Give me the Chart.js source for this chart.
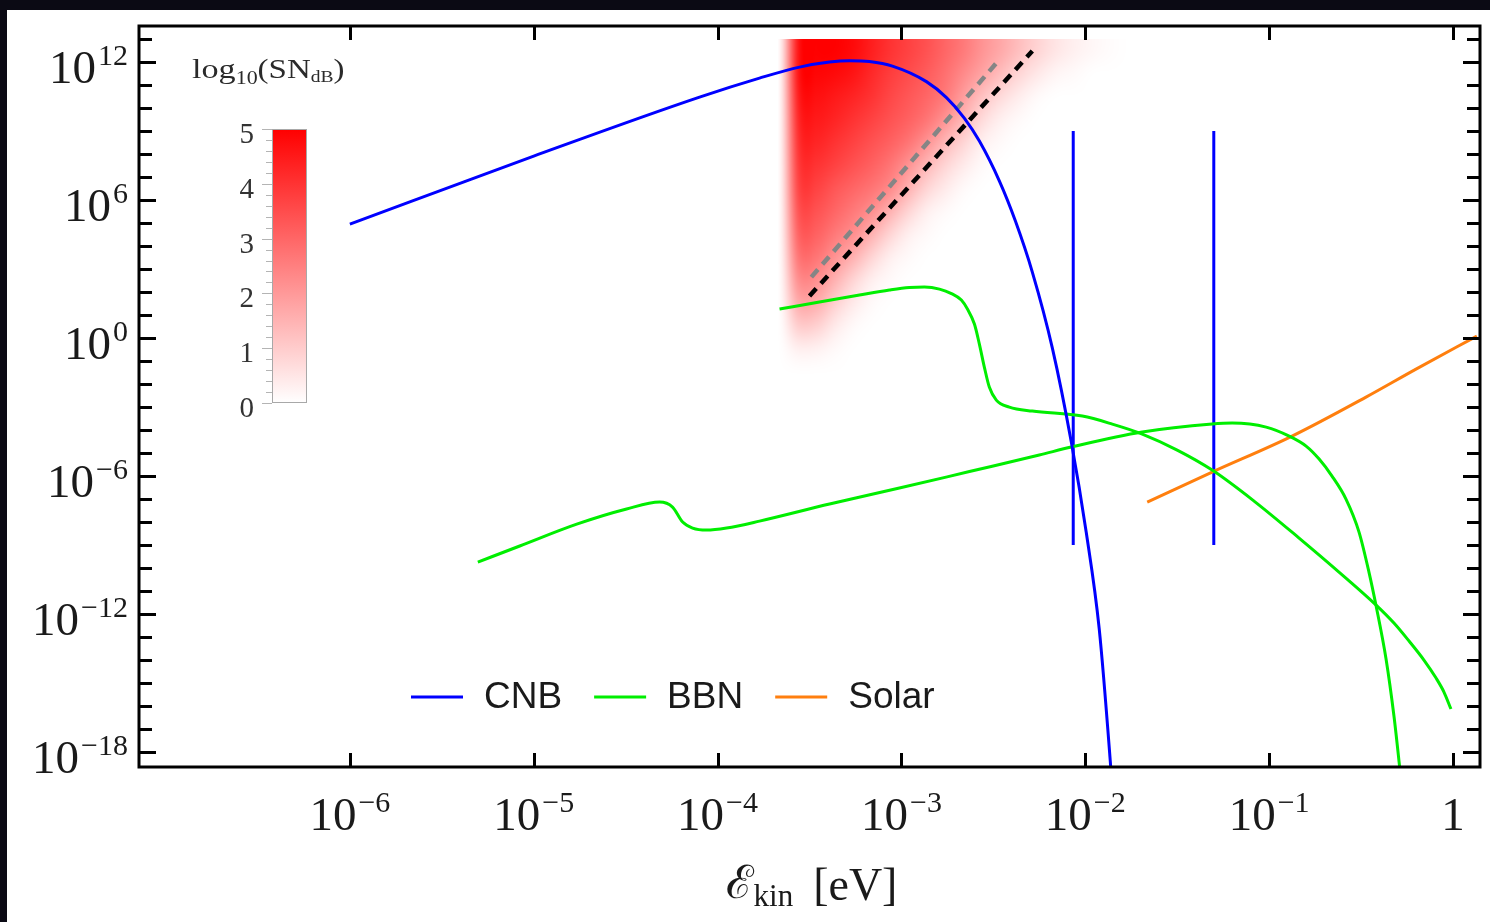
<!DOCTYPE html>
<html><head><meta charset="utf-8">
<script src="https://cdn.jsdelivr.net/npm/chart.js@4.4.0/dist/chart.umd.min.js"></script>
<style>
html,body{margin:0;padding:0;background:#0a0912;overflow:hidden}
#c{position:absolute;left:0;top:0}
</style></head><body>
<canvas id="c" width="1490" height="922"></canvas>
<script>
// ---------------- data (log10 values) ----------------
const xTickValues = [1e-6, 1e-5, 1e-4, 1e-3, 1e-2, 1e-1, 1];
const xTickBase = ['10', '10', '10', '10', '10', '10', '1'];
const xTickSup = ['\u22126', '\u22125', '\u22124', '\u22123', '\u22122', '\u22121', ''];
const yTickValues = [1e12, 1e6, 1, 1e-6, 1e-12, 1e-18];
const yTickBase = ['10', '10', '10', '10', '10', '10'];
const yTickSup = ['12', '6', '0', '\u22126', '\u221212', '\u221218'];

const cnbLogE = [-6, -5, -4.098, -3.772, -3.554, -3.391, -3.283, -3.174, -3.049, -2.864, -2.755, -2.658, -2.576, -2.467, -2.380, -2.288, -2.179, -2.076, -1.995, -1.924, -1.864, -1.826];
const cnbLogFlux = [4.957, 7.913, 10.478, 11.304, 11.783, 12.0, 12.057, 12.022, 11.826, 11.152, 10.457, 9.565, 8.565, 6.826, 5.087, 2.870, -0.435, -4.522, -8.435, -12.652, -18.391, -22.652];

const bbnALogE = [-3.663, -3.446, -3.228, -3.065, -2.957, -2.875, -2.793, -2.728, -2.674, -2.641, -2.603, -2.576, -2.549, -2.522, -2.484, -2.413, -2.288, -2.016, -1.853, -1.690, -1.500, -1.310, -1.082, -0.837, -0.620, -0.418, -0.321, -0.239, -0.158, -0.092, -0.049, -0.011];
const bbnALogFlux = [1.261, 1.565, 1.870, 2.087, 2.196, 2.217, 2.130, 1.935, 1.652, 1.261, 0.609, -0.261, -1.261, -2.130, -2.696, -3.0, -3.174, -3.391, -3.739, -4.174, -4.870, -5.739, -7.087, -8.696, -10.174, -11.609, -12.391, -13.174, -14.0, -14.783, -15.391, -16.13];

const bbnBLogE = [-5.304, -5.076, -4.766, -4.495, -4.315, -4.245, -4.19, -4.136, -4.06, -3.951, -3.772, -3.391, -3.011, -2.630, -2.250, -2.076, -1.690, -1.310, -1.201, -1.016, -0.891, -0.799, -0.728, -0.658, -0.582, -0.511, -0.457, -0.418, -0.364, -0.321, -0.293, -0.272];
const bbnBLogFlux = [-9.74, -9.04, -8.09, -7.43, -7.13, -7.35, -8.0, -8.26, -8.35, -8.26, -7.96, -7.217, -6.522, -5.804, -5.087, -4.739, -4.087, -3.739, -3.696, -3.870, -4.261, -4.696, -5.261, -6.0, -7.0, -8.435, -10.174, -11.652, -13.957, -16.435, -18.435, -20.043];

const solarLogE = [-1.663, -1.310, -0.875, -0.473, -0.201, 0.130];
const solarLogFlux = [-7.13, -5.826, -4.261, -2.565, -1.348, 0.087];

const massLogE = [-2.0655, -1.301];          // vertical CNB mass lines
const massLogFluxRange = [-9, 9];

const blackDashLogE = [-3.5, -2.288];
const blackDashLogFlux = [1.83, 12.48];
const grayDashLogE = [-3.49, -2.478];
const grayDashLogFlux = [2.65, 12.01];

// heat map of log10(SN_dB): column centres (log10 E), row centres (log10 flux), values per row
const heatLogE = [-3.66, -3.56, -3.46, -3.36, -3.26, -3.16, -3.06, -2.96, -2.86, -2.76, -2.66, -2.56, -2.46, -2.36, -2.26, -2.16, -2.06, -1.96, -1.86, -1.76];
const heatLogFlux = [12.5, 11.5, 10.5, 9.5, 8.5, 7.5, 6.5, 5.5, 4.5, 3.5, 2.5, 1.5, 0.5, -0.5, -1.5];
const heatSN = [
  [0, 4.8, 5.0, 5.0, 4.8, 4.4, 4.0, 3.7, 3.4, 3.0, 2.6, 2.1, 1.7, 1.25, 0.85, 0.5, 0.3, 0.15, 0.05, 0],
  [0, 4.8, 4.9, 4.8, 4.6, 4.2, 3.8, 3.5, 3.2, 2.8, 2.3, 1.8, 1.3, 0.8, 0.45, 0.2, 0.1, 0, 0, 0],
  [0, 4.6, 4.7, 4.5, 4.3, 4.0, 3.6, 3.3, 3.0, 2.6, 1.9, 1.2, 0.7, 0.35, 0.1, 0, 0, 0, 0, 0],
  [0, 4.4, 4.5, 4.3, 4.0, 3.7, 3.4, 3.1, 2.7, 2.1, 1.4, 0.7, 0.3, 0.1, 0, 0, 0, 0, 0, 0],
  [0, 4.2, 4.3, 4.0, 3.7, 3.4, 3.1, 2.7, 2.1, 1.4, 0.8, 0.3, 0.1, 0, 0, 0, 0, 0, 0, 0],
  [0, 4.0, 4.0, 3.7, 3.4, 3.1, 2.7, 2.1, 1.4, 0.8, 0.4, 0.1, 0, 0, 0, 0, 0, 0, 0, 0],
  [0, 3.8, 3.7, 3.3, 3.0, 2.7, 2.3, 1.5, 0.8, 0.4, 0.1, 0, 0, 0, 0, 0, 0, 0, 0, 0],
  [0, 3.5, 3.4, 3.0, 2.6, 2.2, 1.5, 0.8, 0.3, 0.1, 0, 0, 0, 0, 0, 0, 0, 0, 0, 0],
  [0, 3.2, 3.1, 2.6, 2.2, 1.5, 0.8, 0.3, 0.1, 0, 0, 0, 0, 0, 0, 0, 0, 0, 0, 0],
  [0, 2.8, 2.7, 2.1, 1.5, 0.8, 0.3, 0.1, 0, 0, 0, 0, 0, 0, 0, 0, 0, 0, 0, 0],
  [0, 2.3, 2.2, 1.5, 0.8, 0.3, 0.1, 0, 0, 0, 0, 0, 0, 0, 0, 0, 0, 0, 0, 0],
  [0, 1.7, 1.6, 0.9, 0.4, 0.1, 0, 0, 0, 0, 0, 0, 0, 0, 0, 0, 0, 0, 0, 0],
  [0, 1.0, 0.9, 0.4, 0.1, 0, 0, 0, 0, 0, 0, 0, 0, 0, 0, 0, 0, 0, 0, 0],
  [0, 0.3, 0.25, 0.1, 0, 0, 0, 0, 0, 0, 0, 0, 0, 0, 0, 0, 0, 0, 0, 0],
  [0, 0, 0, 0, 0, 0, 0, 0, 0, 0, 0, 0, 0, 0, 0, 0, 0, 0, 0, 0]
];
const snTicks = [0, 1, 2, 3, 4, 5];
const snMax = 5;

// ---------------- helpers ----------------
const pts = (lx, ly) => lx.map((v, i) => ({ x: Math.pow(10, v), y: Math.pow(10, ly[i]) }));

const SERIF = "'Liberation Serif','DejaVu Serif',serif";
const SANS = "'Liberation Sans',Arial,sans-serif";
const BLUE = '#0000ff', GREEN = '#00ee00', ORANGE = '#ff7f0e';

const straight = { cubicInterpolationMode: 'default', tension: 0 };
const datasets = [
  { label: 'CNB', data: pts(cnbLogE, cnbLogFlux), borderColor: BLUE, legend: true },
  { label: 'BBN', data: pts(bbnALogE, bbnALogFlux), borderColor: GREEN, legend: true },
  { label: 'BBN (2)', data: pts(bbnBLogE, bbnBLogFlux), borderColor: GREEN },
  { label: 'Solar', data: pts(solarLogE, solarLogFlux), borderColor: ORANGE, legend: true },
  ...massLogE.map((m, i) => Object.assign({ label: 'mass ' + i, data: pts([m, m], massLogFluxRange), borderColor: BLUE }, straight)),
  Object.assign({ label: 'dash gray', data: pts(grayDashLogE, grayDashLogFlux), borderColor: '#858585', borderDash: [10, 7], borderWidth: 4.5, borderCapStyle: 'butt' }, straight),
  Object.assign({ label: 'dash black', data: pts(blackDashLogE, blackDashLogFlux), borderColor: '#000000', borderDash: [10, 7], borderWidth: 4.5, borderCapStyle: 'butt' }, straight)
].map(d => Object.assign({ showLine: true, pointRadius: 0, borderWidth: 3, fill: false, cubicInterpolationMode: 'monotone' }, d));

// ---------------- plugins ----------------
const bgPlugin = {
  id: 'bg',
  beforeDraw(chart) {
    const ctx = chart.ctx;
    ctx.save();
    ctx.fillStyle = '#0b0a14';
    ctx.fillRect(0, 0, chart.width, chart.height);
    ctx.fillStyle = '#ffffff';
    ctx.fillRect(7, 10, chart.width - 7, chart.height - 10);
    ctx.restore();
  }
};

const heatPlugin = {
  id: 'heat',
  beforeDatasetsDraw(chart) {
    const { ctx, chartArea: a, scales: { x, y } } = chart;
    const nc = heatLogE.length, nr = heatLogFlux.length;
    const off = document.createElement('canvas');
    off.width = nc; off.height = nr;
    const oc = off.getContext('2d');
    const img = oc.createImageData(nc, nr);
    for (let r = 0; r < nr; r++) for (let c = 0; c < nc; c++) {
      const v = Math.max(0, Math.min(1, heatSN[r][c] / snMax));
      const k = (r * nc + c) * 4;
      img.data[k] = 255; img.data[k + 1] = 0; img.data[k + 2] = 0; img.data[k + 3] = Math.round(v * 255);
    }
    oc.putImageData(img, 0, 0);
    const dx = (heatLogE[1] - heatLogE[0]) / 2, dy = (heatLogFlux[0] - heatLogFlux[1]) / 2;
    const x0 = x.getPixelForValue(Math.pow(10, heatLogE[0] - dx));
    const x1 = x.getPixelForValue(Math.pow(10, heatLogE[nc - 1] + dx));
    const y0 = y.getPixelForValue(Math.pow(10, heatLogFlux[0] + dy));
    const y1 = y.getPixelForValue(Math.pow(10, heatLogFlux[nr - 1] - dy));
    ctx.save();
    ctx.beginPath(); ctx.rect(a.left, a.top, a.right - a.left, a.bottom - a.top); ctx.clip();
    ctx.imageSmoothingEnabled = true;
    ctx.imageSmoothingQuality = 'high';
    ctx.drawImage(off, x0, y0, x1 - x0, y1 - y0);
    ctx.restore();
  }
};

function drawPow(ctx, base, sup, x, baseline, align, bSize, sSize) {
  ctx.font = bSize + 'px ' + SERIF;
  const wb = ctx.measureText(base).width;
  ctx.font = sSize + 'px ' + SERIF;
  const ws = sup ? ctx.measureText(sup).width + 2 : 0;
  const tot = wb + ws;
  const left = align === 'right' ? x - tot : x - tot / 2;
  ctx.textAlign = 'left'; ctx.textBaseline = 'alphabetic';
  ctx.font = bSize + 'px ' + SERIF;
  ctx.fillText(base, left, baseline);
  if (sup) {
    ctx.font = sSize + 'px ' + SERIF;
    ctx.fillText(sup, left + wb + 2, baseline - 18);
  }
}

const axesPlugin = {
  id: 'axes',
  afterDatasetsDraw(chart) {
    const { ctx, chartArea: a, scales: { x, y } } = chart;
    ctx.save();
    ctx.strokeStyle = '#000';
    ctx.lineWidth = 3;
    ctx.lineCap = 'butt';
    const yMinE = Math.ceil(Math.log10(y.min)), yMaxE = Math.floor(Math.log10(y.max));
    for (let e = yMinE; e <= yMaxE; e++) {
      const py = Math.round(y.getPixelForValue(Math.pow(10, e))) + 0.5;
      const len = (e % 6 === 0) ? 17 : 13;
      ctx.beginPath();
      ctx.moveTo(a.left, py); ctx.lineTo(a.left + len, py);
      ctx.moveTo(a.right, py); ctx.lineTo(a.right - len, py);
      ctx.stroke();
    }
    xTickValues.forEach(v => {
      const px = Math.round(x.getPixelForValue(v)) + 0.5;
      ctx.beginPath();
      ctx.moveTo(px, a.bottom); ctx.lineTo(px, a.bottom - 14);
      ctx.moveTo(px, a.top); ctx.lineTo(px, a.top + 14);
      ctx.stroke();
    });
    ctx.strokeRect(a.left, a.top, a.right - a.left, a.bottom - a.top);

    // tick labels
    ctx.fillStyle = '#1a1a1a';
    xTickValues.forEach((v, i) => {
      drawPow(ctx, xTickBase[i], xTickSup[i], x.getPixelForValue(v), a.bottom + 63, 'center', 47, 30);
    });
    yTickValues.forEach((v, i) => {
      drawPow(ctx, yTickBase[i], yTickSup[i], 128, y.getPixelForValue(v) + 21, 'right', 47, 30);
    });

    // x axis title: E_kin [eV]
    const t1 = '\u2130', t2 = 'kin', t3 = '[eV]';
    ctx.font = '46px ' + SERIF; const w1 = ctx.measureText(t1).width, w3 = ctx.measureText(t3).width;
    ctx.font = '31px ' + SERIF; const w2 = ctx.measureText(t2).width;
    const gap = 20;
    let tx = (a.left + a.right) / 2 - (w1 + w2 + gap + w3) / 2 + 2;
    const tb = 900;
    ctx.textAlign = 'left'; ctx.textBaseline = 'alphabetic';
    ctx.font = '46px ' + SERIF; ctx.fillText(t1, tx, tb - 2); tx += w1;
    ctx.font = '31px ' + SERIF; ctx.fillText(t2, tx, tb + 6); tx += w2 + gap;
    ctx.font = '46px ' + SERIF; ctx.fillText(t3, tx, tb);

    // colour bar
    const cb = { l: 272, r: 307, t: 129, b: 403 };
    const g = ctx.createLinearGradient(0, cb.b, 0, cb.t);
    g.addColorStop(0, '#ffffff'); g.addColorStop(1, '#ff0000');
    ctx.fillStyle = g;
    ctx.fillRect(cb.l, cb.t, cb.r - cb.l, cb.b - cb.t);
    ctx.lineWidth = 1; ctx.strokeStyle = '#a8a8a8';
    ctx.strokeRect(cb.l + 0.5, cb.t + 0.5, cb.r - cb.l - 1, cb.b - cb.t - 1);
    const cbY = v => cb.b - (v / snMax) * (cb.b - cb.t);
    ctx.strokeStyle = '#b4b4b4';
    for (let i = 0; i <= snMax * 5; i++) {
      const py = Math.round(cbY(i / 5)) + 0.5;
      const len = (i % 5 === 0) ? 10 : 6;
      ctx.beginPath(); ctx.moveTo(cb.l - len, py); ctx.lineTo(cb.l, py); ctx.stroke();
    }
    ctx.fillStyle = '#333';
    ctx.font = '29px ' + SERIF; ctx.textAlign = 'right'; ctx.textBaseline = 'alphabetic';
    snTicks.forEach(v => ctx.fillText(String(v), 254, cbY(v) + 14));

    // colour bar title log10(SN_dB)
    ctx.save();
    ctx.translate(192, 78);
    ctx.scale(1.22, 1);
    ctx.textAlign = 'left';
    ctx.fillStyle = '#2a2a2a';
    let cx = 0;
    const parts = [['log', 28, 0], ['10', 18, 6], ['(SN', 27, 0], ['dB', 16, 4], [')', 27, 0]];
    parts.forEach(([s, sz, dy]) => {
      ctx.font = sz + 'px ' + SERIF; ctx.fillText(s, cx, dy); cx += ctx.measureText(s).width;
    });
    ctx.restore();

    // legend
    let lx = 411; const ly = 697;
    chart.data.datasets.filter(d => d.legend).forEach(d => {
      ctx.strokeStyle = d.borderColor; ctx.lineWidth = 3;
      ctx.beginPath(); ctx.moveTo(lx, ly); ctx.lineTo(lx + 52, ly); ctx.stroke();
      ctx.fillStyle = '#1a1a1a'; ctx.font = '37px ' + SANS; ctx.textBaseline = 'middle'; ctx.textAlign = 'left';
      ctx.fillText(d.label, lx + 73, ly + 1);
      lx += 73 + ctx.measureText(d.label).width + 32;
    });
    ctx.restore();
  }
};

new Chart(document.getElementById('c'), {
  type: 'scatter',
  data: { datasets },
  options: {
    responsive: false,
    devicePixelRatio: 1,
    animation: false,
    layout: { padding: { left: 139, right: 10, top: 26, bottom: 155 } },
    plugins: { legend: { display: false }, tooltip: { enabled: false } },
    scales: {
      x: { type: 'logarithmic', min: Math.pow(10, -7.147), max: Math.pow(10, 0.147), display: false },
      y: { type: 'logarithmic', min: Math.pow(10, -18.65), max: Math.pow(10, 13.57), display: false }
    }
  },
  plugins: [bgPlugin, heatPlugin, axesPlugin]
});
</script>
</body></html>
